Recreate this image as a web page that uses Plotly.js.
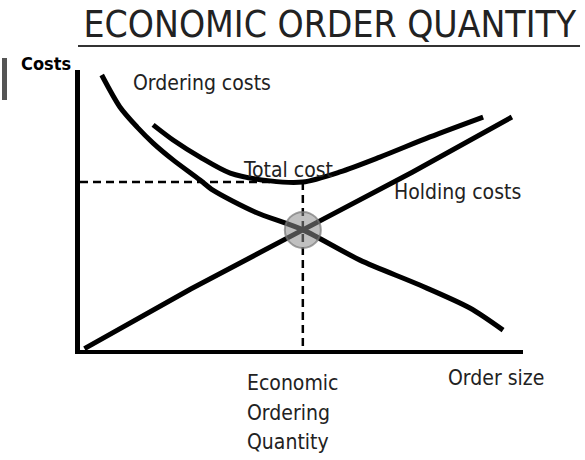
<!DOCTYPE html>
<html>
<head>
<meta charset="utf-8">
<script src="https://cdn.plot.ly/plotly-3.0.1.min.js"></script>
<style>html,body{margin:0;padding:0;background:#fff;}#chart{width:585px;height:460px;}</style>
</head>
<body>
<div id="chart"></div>
<script>
// Order size (x) and cost (y) values, arbitrary 0-100 units
var orderingX = [4.9, 9.0, 12.9, 16.5, 21.0, 27.1, 30.0, 39.5, 50.3, 63.2, 76.7, 88.0, 95.5];
var orderingY = [98.2, 86.8, 79.6, 73.9, 67.9, 60.7, 57.1, 49.3, 42.9, 32.1, 23.2, 15.0, 7.1];
var holdingX = [1, 25, 50.3, 75, 97.5];
var holdingY = [0.5, 21.8, 42.9, 63.5, 83.2];
var totalX = [16.5, 21.0, 27.1, 33.9, 42.9, 50.3, 58.7, 67.7, 79.0, 91.0];
var totalY = [80.4, 75.0, 68.9, 63.2, 60.4, 60.0, 63.6, 68.9, 76.1, 83.2];
var eoqX = [50.3];
var eoqCost = [60.0];
var crossY = [42.9];
var labels = {
  title: 'ECONOMIC ORDER QUANTITY',
  yTitle: 'Costs',
  xTitle: 'Order size',
  ordering: 'Ordering costs',
  total: 'Total cost',
  holding: 'Holding costs',
  eoq: ['Economic', 'Ordering', 'Quantity']
};

var FONT = '"DejaVu Sans Condensed", "DejaVu Sans", sans-serif';
var curve = {color: '#000', width: 5, shape: 'spline', smoothing: 0.8};

var traces = [
  {x: orderingX, y: orderingY, mode: 'lines', line: curve, hoverinfo: 'skip'},
  {x: holdingX, y: holdingY, mode: 'lines', line: {color: '#000', width: 5}, hoverinfo: 'skip'},
  {x: totalX, y: totalY, mode: 'lines', line: curve, hoverinfo: 'skip'},
  {x: [0, eoqX[0]], y: [eoqCost[0], eoqCost[0]], mode: 'lines',
   line: {color: '#000', width: 2.5, dash: '8px,5px'}, hoverinfo: 'skip'},
  {x: [eoqX[0], eoqX[0]], y: [eoqCost[0], 0], mode: 'lines',
   line: {color: '#000', width: 2.5, dash: '8px,5px'}, hoverinfo: 'skip'},
  {x: eoqX, y: crossY, mode: 'markers',
   marker: {size: 36, color: 'rgba(140,140,140,0.55)', line: {color: 'rgba(120,120,120,0.7)', width: 2}},
   hoverinfo: 'skip'}
];

var ann = [
  {text: labels.yTitle, xref: 'paper', yref: 'paper', x: -0.0158, y: 1.025, xanchor: 'right', yanchor: 'middle',
   showarrow: false, font: {family: FONT, size: 18, color: '#000', weight: 'bold'}},
  {text: labels.ordering, xref: 'x', yref: 'y', x: 27.5, y: 95.4, showarrow: false,
   font: {family: FONT, size: 21, color: '#222'}},
  {text: labels.total, xref: 'x', yref: 'y', x: 47, y: 64.3, showarrow: false,
   font: {family: FONT, size: 21, color: '#222'}},
  {text: labels.holding, xref: 'x', yref: 'y', x: 85.3, y: 56.4, showarrow: false,
   font: {family: FONT, size: 21, color: '#222'}},
  {text: labels.xTitle, xref: 'paper', yref: 'paper', x: 0.939, y: -0.1, xanchor: 'center', yanchor: 'middle',
   showarrow: false, font: {family: FONT, size: 21, color: '#222'}}
];
var eoqYs = [-0.118, -0.225, -0.329];
labels.eoq.forEach(function (t, i) {
  ann.push({text: t, xref: 'paper', yref: 'paper', x: 0.372, y: eoqYs[i], xanchor: 'left', yanchor: 'middle',
    showarrow: false, font: {family: FONT, size: 21, color: '#222'}});
});

var layout = {
  width: 585, height: 460,
  margin: {l: 80, r: 62, t: 70, b: 110},
  paper_bgcolor: '#fff', plot_bgcolor: '#fff',
  showlegend: false,
  title: {text: labels.title, x: 0.564, xref: 'paper', xanchor: 'center',
    y: 1 - 24 / 460, yref: 'container', yanchor: 'middle',
    font: {family: FONT, size: 37, color: '#222'}},
  xaxis: {range: [0, 100], showgrid: false, zeroline: false, showticklabels: false, ticks: '',
    showline: true, linecolor: '#000', linewidth: 4, fixedrange: true},
  yaxis: {range: [0, 100], showgrid: false, zeroline: false, showticklabels: false, ticks: '',
    showline: true, linecolor: '#000', linewidth: 5, fixedrange: true},
  annotations: ann,
  shapes: [
    {type: 'line', xref: 'paper', yref: 'paper', x0: -0.0045, x1: 1.1287, y0: 1.0857, y1: 1.0857,
     line: {color: '#333', width: 2}},
    {type: 'rect', xref: 'paper', yref: 'paper', x0: (2 - 80) / 443, x1: (7 - 80) / 443,
     y0: (350 - 100) / 280, y1: (350 - 58) / 280, fillcolor: '#555', line: {width: 0}}
  ]
};

Plotly.newPlot('chart', traces, layout, {displayModeBar: false, staticPlot: true});
</script>
</body>
</html>
